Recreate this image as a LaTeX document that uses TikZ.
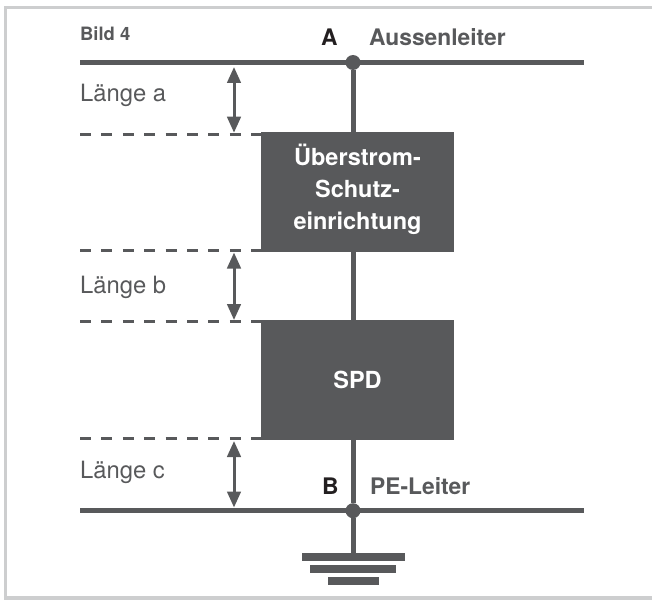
\documentclass[tikz,border=0pt]{standalone}
\usepackage{fontspec}
\setmainfont{TeX Gyre Heros}
\usetikzlibrary{arrows.meta,positioning}
\definecolor{dunkel}{HTML}{58595B}
\definecolor{rahmen}{HTML}{CDCECF}
\definecolor{schwarz}{HTML}{231F20}
\tikzset{
box/.style={fill=dunkel, text=white, align=center, minimum width=193pt, inner sep=0pt, font=\fontsize{23.5}{32}\selectfont\bfseries},
punkt/.style={circle, fill=dunkel, minimum size=15pt, inner sep=0pt},
leiter/.style={draw=dunkel, line width=5pt},
strich/.style={draw=dunkel, line width=3pt, dash pattern=on 11pt off 10.4pt},
mass/.style={draw=dunkel, line width=3pt, {Triangle[length=16pt,width=13.5pt]}-{Triangle[length=16pt,width=13.5pt]}},
erde/.style={fill=dunkel, minimum height=8pt, inner sep=0pt},
laenge/.style={anchor=base west, text=dunkel, inner sep=0pt, font=\fontsize{23.8}{27}\selectfont},
titel/.style={anchor=base west, text=dunkel, inner sep=0pt, font=\fontsize{22.8}{27}\selectfont\bfseries},
marke/.style={anchor=base west, text=schwarz, inner sep=0pt, font=\fontsize{22.8}{27}\selectfont\bfseries}
}
\begin{document}
\begin{tikzpicture}[x=1pt, y=-1pt, node distance=10pt, on grid]
\useasboundingbox (0,0) rectangle (652,599);
\draw [rahmen, line width=3.3pt] (652,7.6) -- (5.6,7.6) -- (5.6,598) -- (652,598);
\node [punkt] (A) at (353,62.5) {};
\node [box, minimum height=120pt, text depth=10pt] (oc) [below=129.5pt of A, xshift=4.5pt] {Überstrom-\\Schutz-\\einrichtung};
\node [box, minimum height=120pt] (spd) [below=188pt of oc] {SPD};
\node [punkt] (B) [below=448.2pt of A] {};
\node [erde, minimum width=103pt] (e_1) [below=46pt of B] {};
\node [erde, minimum width=86pt] (e_2) [below=12pt of e_1] {};
\node [erde, minimum width=51pt] (e_3) [below=12pt of e_2] {};
% Leiter
\coordinate [left=273pt of A] (a_l);
\coordinate [right=231pt of A] (a_r);
\coordinate [left=273pt of B] (b_l);
\coordinate [right=231pt of B] (b_r);
\path [leiter] (a_l) edge (a_r) (b_l) edge (b_r);
\path [leiter] (A) edge (A |- oc.north) (A |- oc.south) edge (A |- spd.north) (A |- spd.south) edge (B) (B) edge (e_1);
% Strichlinien
\coordinate (d_1) at (a_l |- 0,134);
\coordinate (d_2) at (a_l |- 0,250);
\coordinate (d_3) at (a_l |- 0,321.5);
\coordinate (d_4) at (a_l |- 0,438);
\draw [strich] (d_1) -- (d_1 -| oc.west);
\draw [strich] (d_2) -- (d_2 -| oc.west);
\draw [strich] (d_3) -- (d_3 -| spd.west);
\draw [strich] (d_4) -- (d_4 -| spd.west);
% Masspfeile
\coordinate (m_1o) at (234,67);
\coordinate (m_1u) at (234,132.7);
\coordinate (m_2o) at (234,252.5);
\coordinate (m_2u) at (234,320);
\coordinate (m_3o) at (234,441);
\coordinate (m_3u) at (234,507.5);
\draw [mass] (m_1o) -- (m_1u);
\draw [mass] (m_2o) -- (m_2u);
\draw [mass] (m_3o) -- (m_3u);
% Texte
\node [titel, font=\fontsize{18.4}{22}\selectfont\bfseries] (bild) at (80,41) {Bild 4};
\node [marke] (t_a) at (321,46) {A};
\node [titel] (aussen) at (369,46) {Aussenleiter};
\node [marke] (t_b) at (322,494) {B};
\node [titel] (pe) at (370,494) {PE-Leiter};
\node [laenge] (l_a) at (80,102) {Länge a};
\node [laenge] (l_b) at (80,293) {Länge b};
\node [laenge] (l_c) at (80,478) {Länge c};
\end{tikzpicture}
\end{document}
